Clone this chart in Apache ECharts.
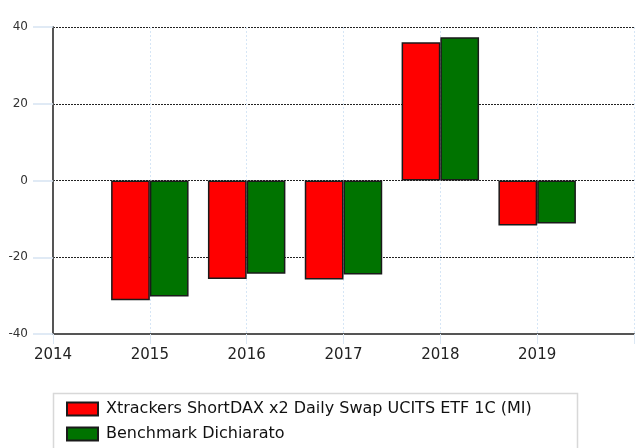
<!DOCTYPE html>
<html>
<head>
<meta charset="utf-8">
<script src="https://cdn.jsdelivr.net/npm/echarts@6/dist/echarts.min.js"></script>
<style>
  html, body { margin: 0; padding: 0; background: #fff; }
  #chart { width: 637px; height: 448px; }
</style>
</head>
<body>
<div id="chart"></div>
<script>
  // anni e rendimenti
  var years = [2015, 2016, 2017, 2018, 2019];
  var fundValues = [-31.2, -25.7, -25.8, 36.0, -11.7];
  var benchValues = [-30.2, -24.3, -24.5, 37.3, -11.2];
  var fundName = 'Xtrackers ShortDAX x2 Daily Swap UCITS ETF 1C (MI)';
  var benchName = 'Benchmark Dichiarato';

  function pairs(vals) {
    return years.map(function (y, i) { return [y, vals[i]]; });
  }

  var myChart = echarts.init(document.getElementById('chart'));

  myChart.setOption({
    animation: false,
    grid: { left: 53, right: 0, top: 27, bottom: 114, containLabel: false },
    graphic: [
      {
        type: 'rect',
        shape: { x: 53.5, y: 393.5, width: 524, height: 70 },
        style: { fill: '#fff', stroke: '#d8d8d8', lineWidth: 1.5 },
        silent: true
      }
    ],
    legend: {
      orient: 'vertical',
      left: 66,
      top: 401,
      padding: 0,
      itemWidth: 31,
      itemHeight: 13,
      itemGap: 9,
      icon: 'rect',
      textStyle: { fontFamily: 'DejaVu Sans', fontSize: 16, color: '#111', lineHeight: 14, padding: [0, 0, 0, 3] },
      data: [fundName, benchName]
    },
    xAxis: {
      type: 'value',
      min: 2014,
      max: 2020,
      interval: 1,
      axisLine: { onZero: false, lineStyle: { color: '#555', width: 2 } },
      axisTick: { show: true, length: 10, lineStyle: { color: '#dce8f4', width: 1 } },
      axisLabel: {
        fontFamily: 'DejaVu Sans', fontSize: 15, color: '#222', margin: 14,
        formatter: function (v) { return v >= 2020 ? '' : String(v); }
      },
      splitLine: { show: true, lineStyle: { color: '#d6e6f6', type: [2, 2], width: 1 } }
    },
    yAxis: {
      type: 'value',
      min: -40,
      max: 40,
      interval: 20,
      axisLine: { show: true, lineStyle: { color: '#555', width: 2 } },
      axisTick: { show: true, length: 20, lineStyle: { color: '#d6e4f2', width: 1.5 } },
      axisLabel: { fontFamily: 'DejaVu Sans', fontSize: 12, color: '#333', margin: 25 },
      splitLine: { show: true, lineStyle: { color: '#222', type: [2, 1], width: 1 } }
    },
    series: [
      {
        name: fundName,
        type: 'bar',
        barGap: '0%',
        barCategoryGap: '20%',
        data: pairs(fundValues),
        itemStyle: { color: '#ff0000', borderColor: '#1a1a1a', borderWidth: 1.5 }
      },
      {
        name: benchName,
        type: 'bar',
        barGap: '0%',
        barCategoryGap: '20%',
        data: pairs(benchValues),
        itemStyle: { color: '#007300', borderColor: '#1a1a1a', borderWidth: 1.5 }
      }
    ]
  });
</script>
</body>
</html>
